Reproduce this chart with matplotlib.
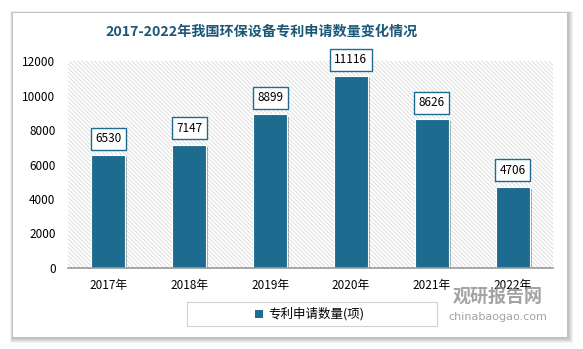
import matplotlib
matplotlib.use("Agg")
import matplotlib.pyplot as plt
from matplotlib.patches import Rectangle
import matplotlib.patheffects as pe

plt.rcParams['font.family'] = ['Noto Sans CJK SC', 'DejaVu Sans']
plt.rcParams['hatch.linewidth'] = 0.5

# ---- data ----
categories = ['2017年', '2018年', '2019年', '2020年', '2021年', '2022年']
values = [6530, 7147, 8899, 11116, 8626, 4706]
yticks = [0, 2000, 4000, 6000, 8000, 10000, 12000]
title = '2017-2022年我国环保设备专利申请数量变化情况'
series_name = '专利申请数量(项)'

BAR = '#1d6b8f'
TITLE_C = '#1b5878'

W, H = 583, 349
fig = plt.figure(figsize=(W / 100, H / 100), dpi=100)
fig.patch.set_facecolor('white')

def px(x0, y0, x1, y1):
    return (x0 / W, 1 - y1 / H, (x1 - x0) / W, (y1 - y0) / H)

# card shadow
for i in range(5):
    d = 6 - i
    l, b, w, h = px(13 - d * 0.5, 13 - d * 0.3, 567 + d, 337 + d)
    fig.patches.append(Rectangle((l, b), w, h, transform=fig.transFigure,
                                 facecolor='black', alpha=0.05, edgecolor='none', zorder=0))
l, b, w, h = px(13, 13, 567, 337)
fig.patches.append(Rectangle((l, b), w, h, transform=fig.transFigure,
                             facecolor='white', edgecolor='none', zorder=0.5))

fig.text(262 / W, 1 - 32 / H, title, ha='center', va='center', fontsize=10.2,
         fontweight='bold', color=TITLE_C, zorder=3)

ax = fig.add_axes(px(68, 61, 553, 268))
ax.set_zorder(2)
ax.set_facecolor('none')
ax.add_patch(Rectangle((0, 0), 1, 1, transform=ax.transAxes, facecolor='white',
                       edgecolor='#d2d2d2', hatch='\\' * 8, lw=0, zorder=0))

x = range(len(categories))
bars = ax.bar(x, values, width=0.42, color=BAR, zorder=2, label=series_name,
              edgecolor='white', linewidth=0.8)
for bb in bars:
    bb.set_path_effects([pe.SimplePatchShadow(offset=(1.5, -1.5), shadow_rgbFace='black', alpha=0.3),
                         pe.Normal()])

for xi, v in zip(x, values):
    ax.annotate(f'{v}', (xi, v), xytext=(0, 12), textcoords='offset points',
                ha='center', va='center', fontsize=8.5, color='black', zorder=4,
                bbox=dict(boxstyle='square,pad=0.38', facecolor='white',
                          edgecolor=BAR, linewidth=1.0))

ax.set_xlim(-0.5, len(categories) - 0.5)
ax.set_ylim(0, 12000)
ax.set_yticks(yticks)
ax.set_yticklabels([str(t) for t in yticks], fontsize=8.5)
ax.set_xticks(list(x))
ax.set_xticklabels(categories, fontsize=8.5)
ax.tick_params(axis='both', length=0)
ax.tick_params(axis='y', pad=9)
ax.tick_params(axis='x', pad=8)
for s in ['top', 'right', 'left']:
    ax.spines[s].set_visible(False)
ax.spines['bottom'].set_color('#9a9a9a')
ax.spines['bottom'].set_linewidth(1.2)
ax.spines['bottom'].set_zorder(3)

# legend box
l, b, w, h = px(187, 302, 437, 326)
fig.patches.append(Rectangle((l, b), w, h, transform=fig.transFigure,
                             facecolor='white', edgecolor='#d0d0d0', lw=0.8, zorder=2))
l, b, w, h = px(255, 310, 263, 318)
fig.patches.append(Rectangle((l, b), w, h, transform=fig.transFigure,
                             facecolor=BAR, edgecolor='none', zorder=3))
fig.text(268 / W, 1 - 314 / H, series_name, ha='left', va='center', fontsize=9, zorder=3)

# watermark
fig.text(498 / W, 1 - 296 / H, '观研报告网', ha='center', va='center', fontsize=13,
         fontweight='bold', color='#8c8c8c', alpha=0.8, zorder=5)
fig.text(498 / W, 1 - 317 / H, 'chinabaogao.com', ha='center', va='center', fontsize=8,
         color='#8c8c8c', alpha=0.8, zorder=5, family='DejaVu Sans')

fig.savefig('out.png', dpi=100, facecolor=fig.get_facecolor())
